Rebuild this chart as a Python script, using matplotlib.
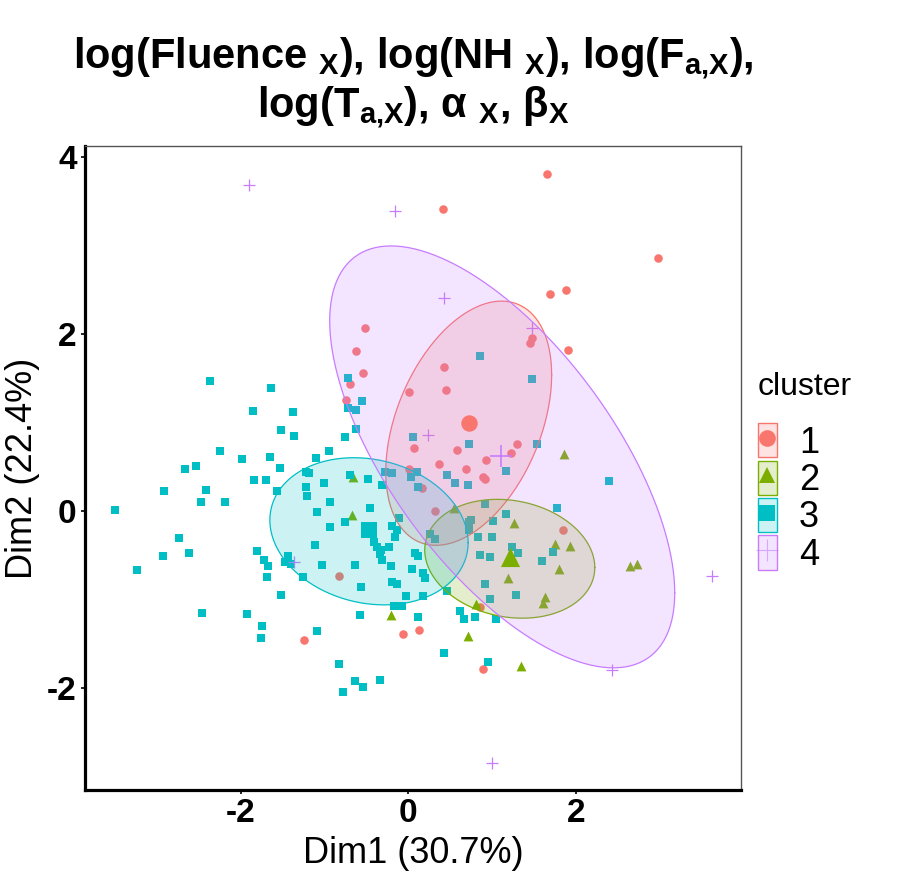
import matplotlib.pyplot as plt
import numpy as np
from matplotlib.colors import to_rgba
from matplotlib.lines import Line2D
from matplotlib.patches import Patch

plt.rcParams['font.family'] = ['Liberation Sans', 'DejaVu Sans']

# cluster 1 (circles)
c1_x = [-0.52, -0.62, -0.54, -0.70, -0.75, 0.01, 0.07, 0.01, 0.16, -0.83,
        -1.24, -0.07, 0.13, 1.65, 0.41, 2.98, 1.69, 1.88, 1.91, 1.48,
        1.45, 0.42, 0.45, 0.58, 1.30, 1.22, 0.93, 0.36, 0.69, 0.89,
        0.92, 1.84, 0.32, 0.85, 0.89]
c1_y = [2.06, 1.81, 1.56, 1.43, 1.25, 1.34, 0.71, 0.47, 0.26, -0.73,
        -1.46, -1.39, -1.34, 3.80, 3.41, 2.85, 2.45, 2.49, 1.82, 1.95,
        1.89, 1.62, 1.36, 0.69, 0.75, 0.65, 0.58, 0.53, 0.47, 0.38,
        0.36, -0.22, 0.00, -1.08, -1.79]

# cluster 2 (triangles)
c2_x = [-0.66, -0.67, -0.21, 0.54, 1.26, 1.75, 1.93, 1.80, 2.64, 2.73,
        1.19, 1.63, 1.61, 0.81, 0.71, 1.35, 1.86]
c2_y = [0.38, -0.05, -1.18, 0.03, -0.14, -0.37, -0.40, -0.65, -0.62, -0.60,
        -0.76, -0.97, -1.04, -1.05, -1.41, -1.75, 0.64]

# cluster 3 (squares)
c3_x = [-2.37, -1.64, -1.86, -1.38, -1.52, -1.36, -2.25, -1.99, -1.65, -2.67,
        -2.53, -1.53, -1.10, -0.95, -0.76, -0.63, -0.72, -0.55, -0.72, -0.62, 0.06,
        -1.84, -1.70, -2.92, -2.41, -2.47, -2.19, -1.57, -1.22, -1.19, -1.22,
        -1.21, -1.01, -0.70, -0.48, -0.32, -0.28, -0.19, 0.03, 0.10, 0.11,
        -3.50, -2.74, -2.62, -2.93, -3.24, -0.93, -1.09, -0.46, -0.76, -0.94,
        -0.11, -0.19, -0.13, -0.16, -0.41, -0.38, -0.23, -0.33, -0.34, -0.31, -0.21,
        -1.11, -1.81, -1.72, -1.67, -1.69, -1.44, -1.47, -1.40, -1.03, -0.64,
        -1.26, -0.56, -0.19, -0.13, -0.03, 0.04, 0.08, 0.11, -1.52, -0.17, -0.08,
        -2.46, -1.93, -1.75, -1.76, -1.09, -0.58, 0.11, -0.83, -0.64, -0.54, -0.34, -0.78,
        0.86, 1.48, 0.72, 1.53, 1.16, 0.46, 0.56, 0.71, 2.40, 1.77,
        0.91, 1.16, 0.75, 0.72, 0.72, 1.01, 0.26, 0.32, 0.83, 1.00,
        1.24, 1.31, 0.86, 0.97, 1.73, 1.60, 0.92, 0.97, 1.29, 0.17,
        0.20, 0.46, 0.18, 0.62, 0.66, 0.79, 1.04, 0.42, 0.95]
c3_y = [1.47, 1.39, 1.13, 1.12, 0.91, 0.85, 0.68, 0.59, 0.61, 0.47,
        0.51, 0.48, 0.60, 0.68, 0.84, 0.93, 1.50, 1.24, 1.16, 1.14, 0.84,
        0.35, 0.35, 0.22, 0.24, 0.10, 0.10, 0.23, 0.44, 0.43, 0.27,
        0.17, 0.32, 0.40, 0.36, 0.29, 0.44, 0.43, 0.38, 0.44, 0.27,
        0.01, -0.30, -0.47, -0.51, -0.67, 0.10, -0.01, 0.03, -0.13, -0.18,
        -0.08, -0.17, -0.21, -0.29, -0.35, -0.41, -0.41, -0.44, -0.49, -0.55, -0.62,
        -0.39, -0.45, -0.55, -0.62, -0.75, -0.51, -0.58, -0.60, -0.61, -0.61,
        -0.75, -0.86, -0.80, -0.83, -0.96, -0.65, -0.47, -0.51, -0.95, -1.07, -1.07,
        -1.15, -1.16, -1.30, -1.44, -1.36, -1.18, -1.20, -1.73, -1.92, -1.99, -1.91, -2.04,
        1.75, 1.49, 0.76, 0.75, 0.45, 0.41, 0.32, 0.29, 0.34, 0.03,
        0.08, -0.03, -0.10, -0.12, -0.21, -0.11, -0.26, -0.32, -0.29, -0.29,
        -0.41, -0.48, -0.50, -0.52, -0.46, -0.57, -0.83, -0.99, -0.95, -0.70,
        -0.76, -0.90, -0.96, -1.13, -1.22, -1.20, -1.22, -1.60, -1.70]

# cluster 4 (plus)
c4_x = [-1.90, -0.16, 0.43, 1.48, 0.23, -1.36, 3.62, 2.43, 1.00]
c4_y = [3.68, 3.38, 2.40, 2.06, 0.86, -0.58, -0.74, -1.80, -2.84]

clusters = ['1', '2', '3', '4']
colors = ['#F8766D', '#7CAE00', '#00BFC4', '#C77CFF']
markers = ['o', '^', 's', '+']

# cluster centres
cen_x = [0.72, 1.21, -0.47, 1.11]
cen_y = [0.99, -0.52, -0.22, 0.62]

# 95% normal ellipses: centre and covariance-like shape
ell_cx = [0.72, 1.21, -0.47, 1.12]
ell_cy = [0.99, -0.54, -0.23, 0.61]
ell_sxx = [0.98, 1.03, 1.40, 4.24]
ell_syy = [1.90, 0.45, 0.69, 5.67]
ell_sxy = [0.54, -0.10, -0.15, -3.16]

fig = plt.figure(figsize=(9.04, 8.76), dpi=100)
ax = fig.add_axes([0.094, 0.0982, 0.7257, 0.7352])

xs = [c1_x, c2_x, c3_x, c4_x]
ys = [c1_y, c2_y, c3_y, c4_y]
pt_size = [38, 50, 37, 80]
cen_size = [140, 190, 120, 260]

for i in range(4):
    if markers[i] == '+':
        ax.scatter(xs[i], ys[i], marker='+', s=pt_size[i], color=colors[i], linewidths=0.9, zorder=2)
    else:
        ax.scatter(xs[i], ys[i], marker=markers[i], s=pt_size[i], color=colors[i], linewidths=0, zorder=2)

t = np.linspace(0, 2 * np.pi, 300)
for i in range(4):
    S = np.array([[ell_sxx[i], ell_sxy[i]], [ell_sxy[i], ell_syy[i]]])
    L = np.linalg.cholesky(S)
    e = L @ np.vstack([np.cos(t), np.sin(t)])
    ax.fill(ell_cx[i] + e[0], ell_cy[i] + e[1], facecolor=colors[i], alpha=0.2, lw=0, zorder=3)
    ax.plot(ell_cx[i] + e[0], ell_cy[i] + e[1], color=colors[i], lw=0.9, zorder=3)

for i in range(4):
    lw = 1.2 if markers[i] == '+' else 0
    ax.scatter(cen_x[i], cen_y[i], marker=markers[i], s=cen_size[i], color=colors[i], linewidths=lw, zorder=4)

ax.set_xlim(-3.86, 3.97)
ax.set_ylim(-3.15, 4.12)
ax.set_xticks([-2, 0, 2])
ax.set_yticks([-2, 0, 2, 4])
ax.set_xticklabels(['-2', '0', '2'])
ax.set_yticklabels(['-2', '0', '2', '4'])
ax.tick_params(labelsize=24, length=3, width=1.2, pad=3)
for lab in ax.get_xticklabels() + ax.get_yticklabels():
    lab.set_fontweight('bold')

for s in ['left', 'bottom']:
    ax.spines[s].set_linewidth(2.3)
    ax.spines[s].set_color('black')
for s in ['top', 'right']:
    ax.spines[s].set_linewidth(1.0)
    ax.spines[s].set_color('#555555')

ax.set_xlabel('Dim1 (30.7%)', fontsize=26, labelpad=5)
ax.set_ylabel('Dim2 (22.4%)', fontsize=26, labelpad=5)

title = ('log(Fluence $_{\\mathregular{X}}$), log(NH $_{\\mathregular{X}}$), '
         'log(F$_{\\mathregular{a{,}X}}$),\n'
         'log(T$_{\\mathregular{a{,}X}}$), α $_{\\mathregular{X}}$, β$_{\\mathregular{X}}$')
ax.set_title(title, fontsize=30, fontweight='bold', pad=21, linespacing=1.1)

handles = []
for i in range(4):
    box = Patch(facecolor=to_rgba(colors[i], 0.2), edgecolor=colors[i], lw=1.0)
    if markers[i] == '+':
        mk = Line2D([], [], marker='+', color=colors[i], ls='none', markersize=16,
                    markeredgewidth=0.8, alpha=0.6)
    else:
        mk = Line2D([], [], marker=markers[i], color=colors[i], ls='none', markersize=12,
                    markeredgewidth=0)
    handles.append((box, mk))

leg = fig.legend(handles, clusters, title='cluster', loc='upper left',
                 bbox_to_anchor=(0.838, 0.575), frameon=False, fontsize=26,
                 title_fontsize=23, handlelength=0.55, handleheight=1.08,
                 labelspacing=0, handletextpad=0.6, borderpad=0, borderaxespad=0,
                 alignment='left')
# gap between the legend title and the keys
leg._legend_box.sep = 15

fig.savefig('out.png', dpi=100)
